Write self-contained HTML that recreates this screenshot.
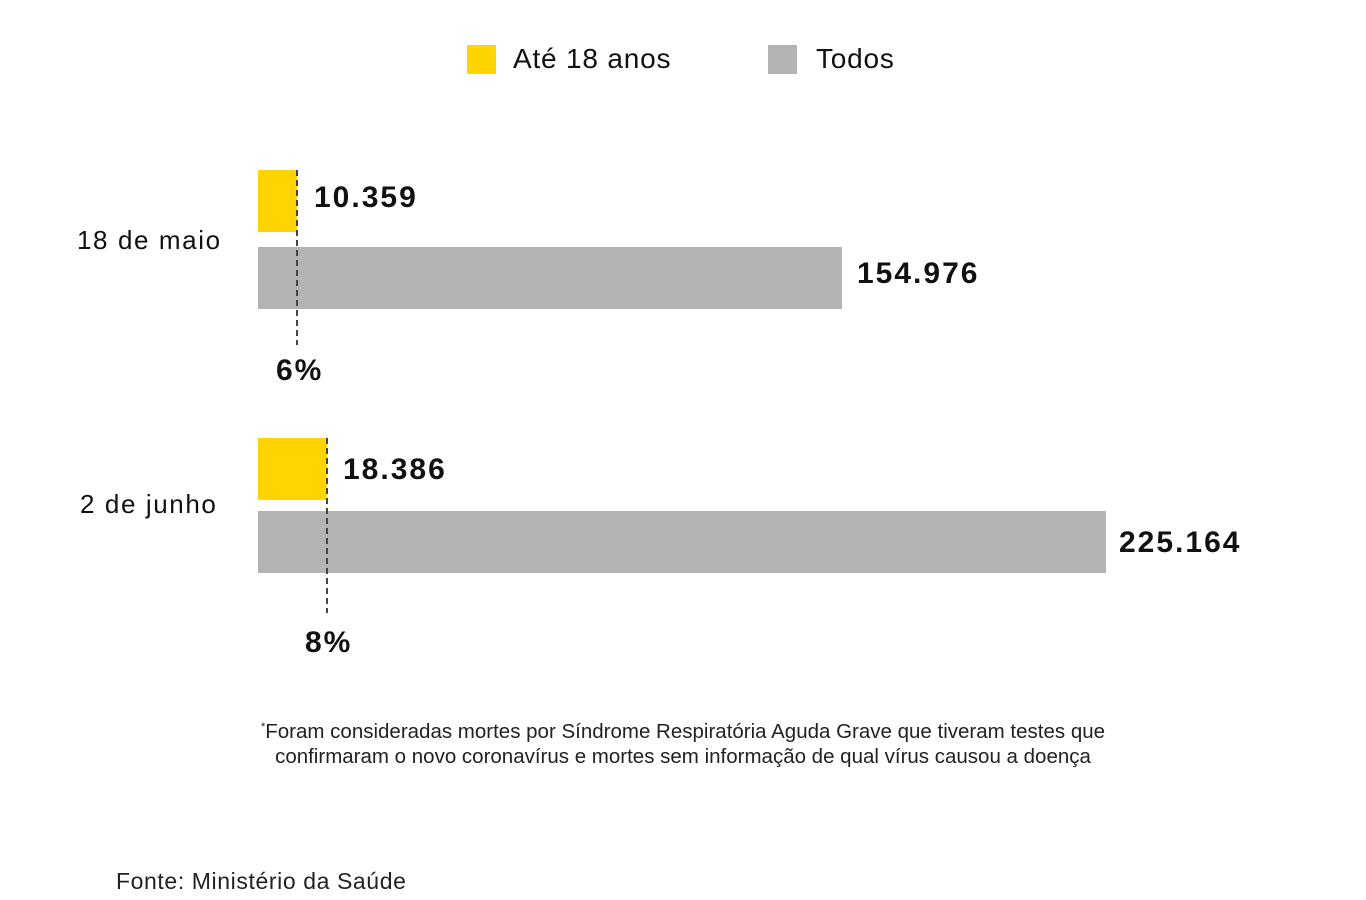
<!DOCTYPE html>
<html><head><meta charset="utf-8"><style>
body{margin:0;width:1366px;height:900px;background:#fff;position:relative;font-family:"Liberation Sans",sans-serif;color:#111;overflow:hidden}
.a{position:absolute;white-space:nowrap}
.b{position:absolute}
.v{position:absolute;font-weight:bold;font-size:30px;line-height:30px;letter-spacing:2px}
.l{position:absolute;font-size:26px;line-height:26px;letter-spacing:1.6px}
.d{position:absolute;width:1.5px;background:repeating-linear-gradient(to bottom,#444 0 6px,transparent 6px 10px)}
</style></head><body>
<div class="b" style="left:467px;top:45px;width:29px;height:29px;background:#ffd400"></div>
<div class="a" style="left:513px;top:44px;font-size:28px;line-height:30px;letter-spacing:0.8px">Até 18 anos</div>
<div class="b" style="left:768px;top:45px;width:29px;height:29px;background:#b3b3b3"></div>
<div class="a" style="left:816px;top:44px;font-size:28px;line-height:30px;letter-spacing:0.8px">Todos</div>

<div class="l" style="left:77px;top:227px">18 de maio</div>
<div class="b" style="left:258px;top:170px;width:39px;height:62px;background:#ffd400"></div>
<div class="b" style="left:258px;top:247px;width:584px;height:62px;background:#b3b3b3"></div>
<div class="d" style="left:296px;top:170px;height:175px"></div>
<div class="v a" style="left:314px;top:183px">10.359</div>
<div class="v a" style="left:857px;top:259px">154.976</div>
<div class="v a" style="left:276px;top:356px">6%</div>

<div class="l" style="left:80px;top:491px">2 de junho</div>
<div class="b" style="left:258px;top:438px;width:69px;height:62px;background:#ffd400"></div>
<div class="b" style="left:258px;top:511px;width:848px;height:62px;background:#b3b3b3"></div>
<div class="d" style="left:326px;top:438px;height:175px"></div>
<div class="v a" style="left:343px;top:455px">18.386</div>
<div class="v a" style="left:1119px;top:528px">225.164</div>
<div class="v a" style="left:305px;top:628px">8%</div>

<div class="a" style="left:0;width:1366px;text-align:center;top:715px;font-size:20.5px;line-height:25px;color:#222">
<span><sup style="font-size:11px">*</sup>Foram consideradas mortes por Síndrome Respiratória Aguda Grave que tiveram testes que</span><br>confirmaram o novo coronavírus e mortes sem informação de qual vírus causou a doença</div>

<div class="a" style="left:116px;top:867px;font-size:23px;line-height:28px;color:#222;letter-spacing:0.6px">Fonte: Ministério da Saúde</div>
</body></html>
